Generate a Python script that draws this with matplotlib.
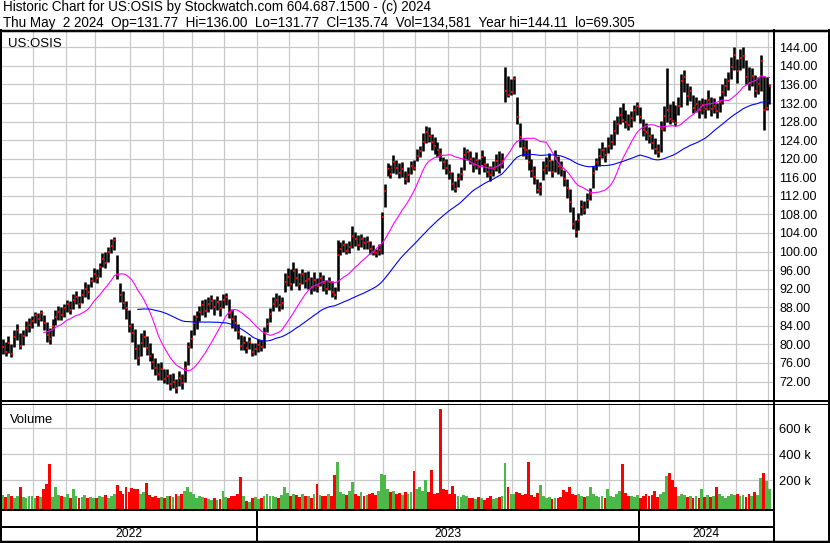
import numpy as np
import pandas as pd
import matplotlib
matplotlib.use('Agg')
import matplotlib.pyplot as plt

W, H = 830, 543
plt.rcParams['font.family'] = ['Liberation Sans', 'DejaVu Sans']

# one bar per two trading days, last bar = Thu May 2 2024
dates = pd.bdate_range('2022-05-02', '2024-05-02')[::-1][::2][::-1]

close = [
    79.5, 78.4, 80.2, 78.0, 81.5, 83.0, 79.6, 81.8, 83.6, 84.2,
    85.0, 86.3, 85.4, 86.8, 84.6, 82.0, 81.2, 84.0, 85.8, 87.0,
    86.4, 87.8, 88.6, 87.5, 89.6, 90.2, 88.8, 90.6, 92.0, 91.2,
    93.6, 95.2, 94.4, 96.6, 98.5, 97.6, 99.8, 101.2, 102.4, 95.0,
    90.6, 89.0, 87.8, 84.0, 82.4, 79.0, 77.0, 80.4, 81.6, 79.2,
    77.6, 76.2, 75.0, 73.6, 74.6, 72.6, 73.2, 71.4, 72.0, 70.6,
    72.8, 71.6, 75.0, 79.4, 81.2, 84.6, 85.8, 87.0, 88.4, 87.2,
    88.6, 89.4, 88.0, 89.2, 87.8, 89.6, 90.2, 86.8, 85.4, 84.6,
    82.6, 79.6, 80.4, 79.2, 80.6, 78.4, 79.0, 79.8, 79.4, 82.4,
    84.4, 86.6, 88.8, 89.6, 88.4, 89.0, 93.4, 94.6, 93.0, 95.8,
    94.2, 93.0, 95.2, 93.6, 94.0, 92.4, 93.8, 92.6, 94.2, 93.2,
    92.0, 93.4, 91.2, 90.6, 99.2, 100.6, 101.4, 100.2, 101.0, 103.4,
    102.6, 101.4, 102.8, 101.8, 102.0, 100.6, 100.0, 99.6, 100.4, 107.4,
    113.0, 117.8, 116.8, 119.2, 118.0, 117.0, 117.8, 115.6, 116.4, 118.4,
    118.0, 120.6, 121.6, 123.6, 125.8, 125.0, 123.6, 122.8, 121.8, 121.0,
    119.2, 118.0, 117.2, 114.6, 113.4, 115.6, 116.8, 120.8, 121.4, 120.0,
    118.6, 119.8, 118.2, 120.4, 118.8, 117.2, 116.4, 117.8, 119.4, 118.6,
    119.6, 134.6, 133.8, 134.4, 137.2, 129.0, 124.6, 122.4, 121.8, 119.2,
    117.4, 116.0, 113.2, 113.8, 117.6, 118.4, 119.6, 117.2, 120.0, 118.4,
    117.8, 115.6, 113.6, 110.6, 106.0, 104.2, 106.8, 109.6, 109.0, 111.2,
    112.4, 117.0, 119.2, 120.6, 121.8, 120.8, 122.8, 123.6, 126.0, 127.4,
    129.4, 128.4, 128.0, 127.2, 128.8, 130.4, 131.4, 129.0, 126.2, 125.8,
    125.0, 123.4, 122.2, 121.4, 126.4, 129.2, 130.6, 128.6, 128.2, 127.6,
    131.4, 136.8, 137.6, 133.6, 134.6, 131.0, 131.8, 130.4, 131.6, 130.8,
    132.6, 130.8, 131.4, 130.2, 132.2, 134.4, 135.6, 136.8, 139.8, 142.4,
    139.0, 141.6, 142.2, 137.6, 136.4, 137.8, 134.6, 136.2, 141.0, 130.6,
    131.0, 135.74,
]

high = [
    81.2, 80.5, 81.8, 80.0, 83.0, 84.3, 82.4, 83.2, 85.0, 85.6,
    86.2, 87.0, 86.8, 87.4, 86.3, 84.8, 83.5, 85.4, 87.3, 88.2,
    88.0, 88.8, 89.6, 89.4, 90.8, 91.4, 90.4, 92.0, 93.4, 93.0,
    94.6, 96.5, 96.2, 97.6, 99.6, 99.8, 101.0, 102.6, 103.1, 99.2,
    93.2, 91.4, 89.4, 87.4, 84.6, 83.4, 80.0, 82.4, 83.2, 81.8,
    80.2, 78.2, 77.0, 76.0, 76.2, 74.8, 74.6, 73.6, 73.8, 72.6,
    74.2, 73.6, 76.4, 80.6, 83.0, 86.4, 87.2, 88.2, 89.6, 89.8,
    90.2, 90.6, 89.8, 90.4, 89.6, 90.8, 91.0, 89.8, 87.6, 86.4,
    84.4, 82.0, 81.8, 80.8, 81.6, 80.4, 80.4, 81.2, 81.0, 83.8,
    85.6, 87.8, 90.2, 91.0, 90.6, 90.2, 95.4, 96.4, 96.2, 97.7,
    96.4, 95.4, 96.2, 95.6, 95.8, 94.6, 95.6, 94.4, 95.6, 95.0,
    93.8, 94.6, 93.6, 92.4, 102.4, 102.0, 102.4, 101.8, 102.2, 105.6,
    104.2, 103.6, 103.8, 103.2, 103.4, 102.2, 101.4, 100.6, 101.6, 108.6,
    114.6, 119.0, 118.6, 120.7, 119.8, 119.0, 119.2, 117.4, 118.2, 119.6,
    119.8, 122.0, 122.8, 125.6, 127.0, 126.8, 125.4, 124.6, 123.6, 122.4,
    120.4, 120.0, 118.8, 117.2, 115.2, 117.0, 118.2, 122.5, 122.2, 121.6,
    120.4, 121.4, 120.0, 121.8, 120.6, 119.0, 118.4, 119.6, 121.0, 121.6,
    121.2, 139.8, 137.8, 137.2, 137.8, 133.4, 127.6, 124.2, 124.0, 122.0,
    120.0, 118.4, 115.6, 115.0, 119.6, 120.4, 121.2, 119.8, 121.8, 120.6,
    119.4, 117.6, 115.6, 113.4, 109.6, 106.8, 108.4, 111.0, 110.8, 112.6,
    113.6, 118.4, 120.2, 122.4, 123.6, 122.6, 124.6, 125.4, 128.4, 129.2,
    131.2, 132.0, 130.4, 129.6, 130.2, 131.6, 132.3, 131.2, 128.6, 127.6,
    126.8, 125.4, 124.4, 123.2, 128.2, 131.4, 139.5, 131.8, 132.4, 131.6,
    133.4, 138.2, 139.1, 136.4, 135.6, 133.8, 133.4, 132.6, 133.0, 132.8,
    134.8, 133.4, 133.0, 132.0, 133.6, 136.2, 137.4, 138.6, 142.0, 144.1,
    141.4, 143.6, 144.1, 141.2, 139.8, 139.6, 138.0, 137.6, 142.3, 137.8,
    137.6, 136.0,
]

low = [
    78.0, 77.6, 78.2, 77.2, 79.5, 81.0, 78.9, 79.8, 81.9, 82.6,
    83.5, 84.6, 84.0, 85.0, 83.0, 80.6, 80.1, 81.9, 84.2, 85.3,
    85.2, 86.0, 87.0, 86.6, 87.6, 88.6, 87.9, 89.0, 90.2, 89.8,
    92.4, 93.4, 93.2, 94.5, 96.6, 96.4, 97.8, 99.6, 100.4, 94.0,
    89.2, 87.6, 85.4, 82.6, 80.6, 76.8, 75.6, 77.6, 79.4, 77.8,
    76.4, 74.8, 73.4, 72.4, 72.4, 71.6, 71.4, 70.2, 70.6, 69.5,
    71.0, 70.4, 71.8, 75.6, 79.2, 82.0, 83.4, 85.0, 86.4, 86.0,
    87.0, 87.6, 86.4, 87.4, 86.2, 87.8, 88.4, 85.6, 83.6, 82.8,
    81.2, 78.8, 78.8, 78.2, 79.0, 77.5, 77.8, 78.4, 78.6, 79.2,
    82.6, 84.8, 87.2, 88.0, 87.2, 87.6, 91.2, 92.6, 91.8, 93.2,
    92.6, 91.8, 93.0, 92.2, 92.0, 90.8, 91.6, 91.2, 92.6, 91.6,
    90.8, 91.8, 90.2, 89.8, 91.6, 99.2, 99.8, 99.4, 99.6, 100.8,
    101.2, 100.4, 101.0, 100.6, 100.6, 99.4, 99.2, 98.8, 99.2, 99.4,
    109.6, 116.2, 115.8, 117.0, 116.6, 115.8, 116.0, 114.6, 115.0, 116.8,
    117.6, 119.4, 120.4, 121.6, 123.4, 123.6, 121.8, 121.0, 120.4, 119.6,
    117.8, 116.6, 115.6, 113.2, 112.8, 114.0, 115.4, 117.6, 119.8, 118.8,
    117.2, 117.8, 116.8, 118.6, 117.2, 116.0, 115.3, 116.2, 117.4, 117.0,
    118.0, 132.3, 133.4, 133.8, 134.0, 127.4, 122.6, 120.6, 120.0, 117.6,
    116.0, 114.6, 112.6, 112.1, 115.4, 116.6, 117.4, 116.0, 117.2, 116.6,
    116.2, 114.2, 111.6, 108.6, 104.8, 103.1, 104.6, 107.8, 108.0, 109.4,
    111.0, 113.6, 117.6, 118.4, 120.2, 119.2, 121.2, 122.0, 123.0, 125.4,
    127.4, 128.0, 126.6, 126.2, 126.8, 128.2, 129.4, 127.6, 124.8, 124.0,
    123.4, 122.0, 121.0, 120.4, 121.4, 126.0, 128.0, 127.4, 128.0, 127.0,
    129.4, 131.2, 134.4, 131.6, 132.4, 129.8, 130.0, 128.8, 129.6, 128.8,
    130.4, 129.2, 129.8, 128.8, 130.0, 131.8, 133.6, 134.8, 137.2, 139.2,
    136.4, 139.2, 139.6, 136.0, 134.8, 135.6, 133.2, 134.0, 134.6, 126.1,
    130.4, 131.77,
]

# volume in thousands of shares
volume_k = [
    85, 70, 90, 75, 60, 80, 145, 70, 65, 80,
    75, 65, 80, 70, 130, 170, 325, 70, 145, 85,
    80, 70, 95, 65, 130, 75, 60, 70, 85, 65,
    70, 65, 60, 75, 70, 85, 65, 75, 90, 160,
    120, 95, 145, 110, 140, 130, 135, 90, 110, 175,
    85, 70, 75, 60, 70, 65, 75, 80, 70, 95,
    80, 95, 120, 145, 110, 90, 65, 80, 70, 60,
    55, 50, 60, 45, 55, 120, 70, 60, 80, 75,
    95, 225, 80, 40, 35, 60, 70, 55, 65, 80,
    90, 75, 80, 70, 65, 85, 145, 100, 75, 90,
    85, 70, 90, 75, 80, 60, 95, 170, 85, 75,
    80, 90, 75, 240, 340, 110, 90, 85, 120, 185,
    95, 80, 110, 75, 85, 90, 100, 85, 120, 245,
    240, 130, 110, 120, 95, 100, 85, 110, 90, 105,
    270, 130, 150, 120, 200, 110, 280, 90, 100, 750,
    130, 125, 90, 155, 95, 80, 70, 85, 75, 65,
    60, 55, 70, 65, 50, 60, 75, 55, 60, 70,
    80, 335, 150, 95, 90, 110, 100, 85, 95, 340,
    85, 70, 100, 160, 75, 60, 70, 55, 65, 60,
    70, 125, 110, 145, 90, 85, 95, 80, 70, 75,
    145, 95, 80, 70, 75, 60, 135, 80, 70, 90,
    120, 325, 100, 75, 80, 70, 85, 60, 75, 90,
    80, 85, 120, 70, 95, 110, 232, 258, 200, 150,
    75, 90, 85, 70, 80, 65, 75, 60, 130, 70,
    85, 70, 80, 145, 90, 75, 65, 80, 95, 85,
    90, 75, 85, 70, 95, 80, 110, 85, 220, 258,
    195, 135,
]

price_ticks = np.arange(72, 145, 4)
volume_ticks = [200, 400, 600]
header_1 = 'Historic Chart for US:OSIS by Stockwatch.com 604.687.1500 - (c) 2024'
header_2 = ('Thu May  2 2024  Op=131.77  Hi=136.00  Lo=131.77  Cl=135.74  '
            'Vol=134,581  Year hi=144.11  lo=69.305')

GRID = '#c8c8c8'
GREEN = '#4cb84a'
RED = '#ff0000'
PX = 0.72  # one pixel in points


def px_box(x0, y0, x1, y1):
    return [x0 / W, 1 - y1 / H, (x1 - x0) / W, (y1 - y0) / H]


n = len(dates)
assert len(close) == len(high) == len(low) == len(volume_k) == n
x = np.arange(n)
cl = pd.Series(close)
ma_short = cl.rolling(15).mean()
ma_long = cl.rolling(47).mean()

chg = cl.diff().fillna(1.0).values
vcol = np.where(chg > 0, GREEN, np.where(chg < 0, RED, '#a8a8a8'))

months = [i - 0.5 for i in range(1, n) if dates[i].month != dates[i - 1].month]
year_starts = [i - 0.5 for i in range(1, n) if dates[i].year != dates[i - 1].year]
xlim = (-0.2, n + 0.2)

fig = plt.figure(figsize=(W / 100, H / 100), dpi=100)

# price panel
ax = fig.add_axes(px_box(2, 32, 773, 401))
ax.set_xlim(xlim)
ax.set_ylim(67.8, 147.3)
ax.set_xticks(months)
ax.set_yticks(price_ticks)
ax.set_yticklabels([f'{v:.2f}' for v in price_ticks])
ax.yaxis.tick_right()
ax.tick_params(axis='y', length=0, pad=4.5, labelsize=9.0)
ax.tick_params(axis='x', length=0, labelbottom=False)
ax.grid(color=GRID, lw=PX * 1.2)
ax.set_axisbelow(True)
for s in ax.spines.values():
    s.set_visible(False)
ax.vlines(x, low, high, color='black', lw=1.85, zorder=2)
ax.plot(x + 0.3, close, 's', ms=1.6, mew=0, color=RED, zorder=3)
ax.plot(x, ma_short, color='#ff00ff', lw=PX * 1.1, zorder=4)
ax.plot(x, ma_long, color='#0000ff', lw=PX * 1.1, zorder=4)
ax.text(0.008, 0.985, 'US:OSIS', transform=ax.transAxes, fontsize=9.5,
        va='top', ha='left')

# volume panel
vax = fig.add_axes(px_box(2, 403, 773, 509))
vbase = -23
vax.set_xlim(xlim)
vax.set_ylim(vbase, 797)
vax.set_xticks(months)
vax.set_yticks(volume_ticks)
vax.set_yticklabels([f'{v} k' for v in volume_ticks])
vax.yaxis.tick_right()
vax.tick_params(axis='y', length=0, pad=4.5, labelsize=9.3)
vax.tick_params(axis='x', length=0, labelbottom=False)
vax.grid(color=GRID, lw=PX * 1.2)
vax.set_axisbelow(True)
for s in vax.spines.values():
    s.set_visible(False)
vax.bar(x, np.array(volume_k) - vbase, bottom=vbase, width=0.95,
        color=vcol, lw=0, zorder=2)
vax.text(0.01, 0.9, 'Volume', transform=vax.transAxes, fontsize=9.4,
         va='top', ha='left')

# date strip
dax = fig.add_axes(px_box(2, 509, 773, 542))
dax.set_xlim(xlim)
dax.set_ylim(0, 1)
dax.axis('off')
dax.vlines(year_starts, 0, 1, color='black', lw=PX * 2)
edges = [xlim[0]] + year_starts + [xlim[1]]
for i in range(len(edges) - 1):
    dax.text((edges[i] + edges[i + 1]) / 2, 0.24, str(dates[0].year + i),
             ha='center', va='center', fontsize=8.8)

# outer frame and header
frame = fig.add_axes([0, 0, 1, 1])
frame.set_xlim(0, W)
frame.set_ylim(H, 0)
frame.axis('off')
frame.text(3, 11, header_1, fontsize=9.75, va='baseline')
frame.text(3, 27, header_2, fontsize=9.75, va='baseline')
frame.plot([0, W], [30.5, 30.5], color='black', lw=PX * 2.5)
frame.plot([0, W], [401, 401], color='black', lw=PX * 2)
frame.plot([0, W], [403.5, 403.5], color='black', lw=PX * 1)
frame.plot([0, 773], [510, 510], color='black', lw=PX * 2)
frame.plot([0, 773], [526.5, 526.5], color='black', lw=PX * 2)
frame.plot([0, W], [541.8, 541.8], color='black', lw=PX * 2.5)
frame.plot([1, 1], [30, H], color='black', lw=PX * 2)
frame.plot([773.5, 773.5], [30, 542], color='black', lw=PX * 2)
frame.plot([829, 829], [30, H], color='black', lw=PX * 2)

fig.savefig('out.png', dpi=100)
